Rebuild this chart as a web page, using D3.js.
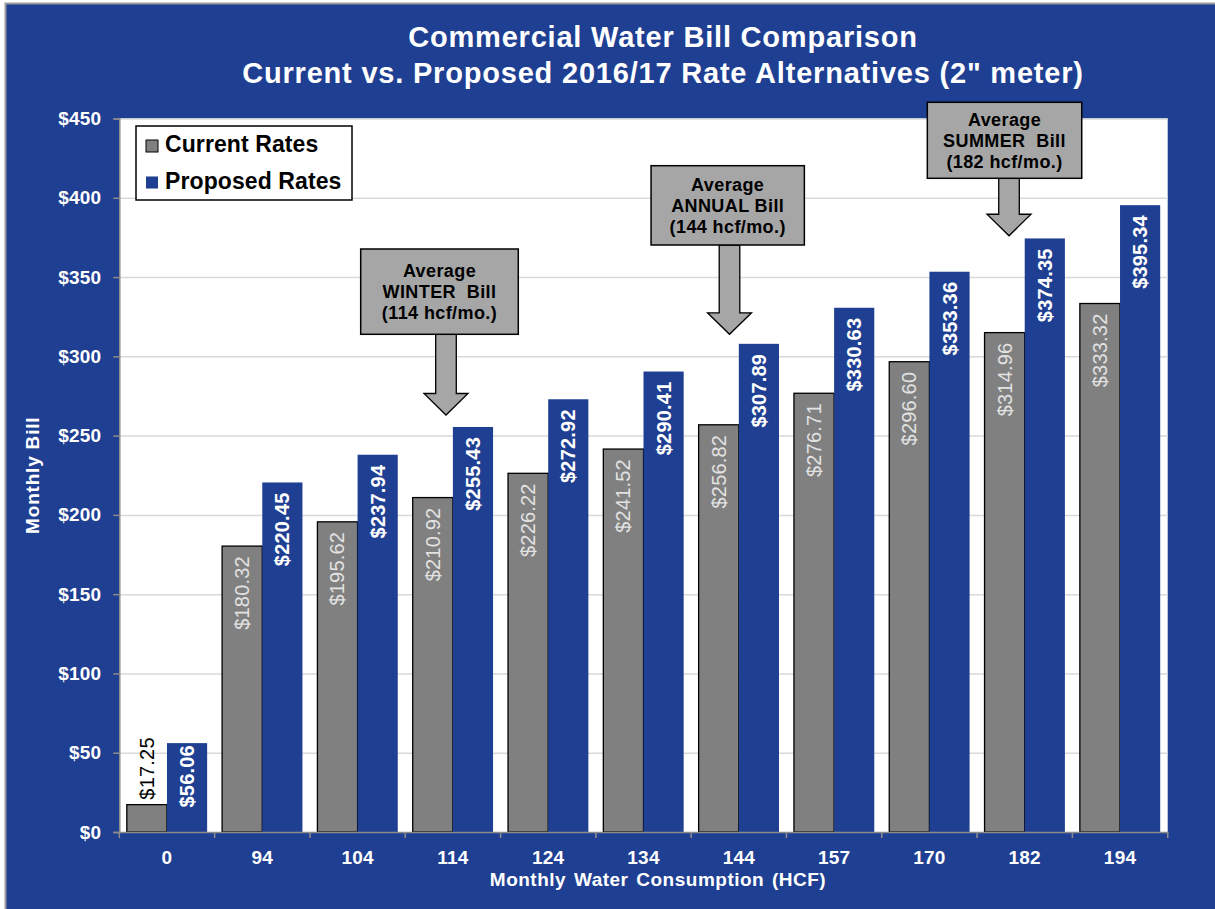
<!DOCTYPE html>
<html>
<head>
<meta charset="utf-8">
<title>Commercial Water Bill Comparison</title>
<script src="https://cdn.jsdelivr.net/npm/d3@7"></script>
<style>
  body { margin: 0; background: #ffffff; }
  svg { display: block; }
  text { font-family: "Liberation Sans", Arial, Helvetica, sans-serif; }
</style>
</head>
<body>
<svg id="chart" width="1215" height="909"></svg>
<script>
// Monthly water consumption (HCF) for a 2" meter
const categories = ["0", "94", "104", "114", "124", "134", "144", "157", "170", "182", "194"];
// Monthly bill under current rates ($)
const currentRates = [17.25, 180.32, 195.62, 210.92, 226.22, 241.52, 256.82, 276.71, 296.60, 314.96, 333.32];
// Monthly bill under proposed 2016/17 rates ($)
const proposedRates = [56.06, 220.45, 237.94, 255.43, 272.92, 290.41, 307.89, 330.63, 353.36, 374.35, 395.34];
const seriesNames = ["Current Rates", "Proposed Rates"];
const yTicks = [0, 50, 100, 150, 200, 250, 300, 350, 400, 450];
const titleLines = ["Commercial Water Bill Comparison", "Current vs. Proposed 2016/17 Rate Alternatives (2\" meter)"];
const xTitle = "Monthly Water Consumption (HCF)";
const yTitle = "Monthly Bill";
// Callout notes pointing at the average seasonal bills
const callouts = [
  { category: "114", lines: ["Average", "WINTER\u00a0 Bill", "(114 hcf/mo.)"] },
  { category: "144", lines: ["Average", "ANNUAL Bill", "(144 hcf/mo.)"] },
  { category: "182", lines: ["Average", "SUMMER\u00a0 Bill", "(182 hcf/mo.)"] }
];

const COLORS = {
  frame: "#1f3f93",
  frameStroke: "#9a9a9a",
  current: "#808080",
  proposed: "#1f3f93",
  grid: "#d9d9d9",
  axis: "#8c8c8c",
  callout: "#a6a6a6",
  currentLabel: "#e2e2e2"
};

const W = 1215, H = 909;
const plot = { left: 119.3, right: 1167.7, top: 118.5, bottom: 832 };

const svg = d3.select("#chart");

// Blue chart frame
svg.append("rect")
  .attr("x", 5.5).attr("y", 3.5)
  .attr("width", W).attr("height", H)
  .attr("fill", COLORS.frame)
  .attr("stroke", COLORS.frameStroke)
  .attr("stroke-width", 2);

// Titles
svg.append("g").selectAll("text")
  .data(titleLines)
  .join("text")
  .attr("x", 663)
  .attr("y", (d, i) => 47 + i * 36)
  .attr("text-anchor", "middle")
  .attr("fill", "#ffffff")
  .attr("font-weight", "bold")
  .attr("font-size", 29)
  .attr("letter-spacing", 0.8)
  .text(d => d);

// Scales
const rows = categories.map((c, i) => ({ category: c, current: currentRates[i], proposed: proposedRates[i] }));

const x = d3.scaleBand()
  .domain(categories)
  .range([plot.left, plot.right])
  .paddingInner(0.157)
  .paddingOuter(0.0787);

const xSeries = d3.scaleBand()
  .domain(["current", "proposed"])
  .range([0, x.bandwidth()]);

const y = d3.scaleLinear()
  .domain([0, 450])
  .range([plot.bottom, plot.top]);

// Plot area
svg.append("rect")
  .attr("x", plot.left).attr("y", plot.top)
  .attr("width", plot.right - plot.left)
  .attr("height", plot.bottom - plot.top)
  .attr("fill", "#ffffff");

// Horizontal gridlines
const grid = svg.append("g")
  .attr("transform", `translate(${plot.left},0)`)
  .call(d3.axisLeft(y).tickValues(yTicks.filter(v => v > 0)).tickSize(-(plot.right - plot.left)).tickFormat(""));
grid.select(".domain").remove();
grid.selectAll(".tick line").attr("stroke", COLORS.grid).attr("stroke-width", 1.5);

// Bars
const groups = svg.append("g").selectAll("g")
  .data(rows)
  .join("g")
  .attr("transform", d => `translate(${x(d.category)},0)`);

groups.append("rect")
  .attr("x", xSeries("current"))
  .attr("y", d => y(d.current))
  .attr("width", xSeries.bandwidth())
  .attr("height", d => y(0) - y(d.current))
  .attr("fill", COLORS.current)
  .attr("stroke", "#000000")
  .attr("stroke-width", 1.3);

groups.append("rect")
  .attr("x", xSeries("proposed"))
  .attr("y", d => y(d.proposed))
  .attr("width", xSeries.bandwidth())
  .attr("height", d => y(0) - y(d.proposed))
  .attr("fill", COLORS.proposed);

// Axes
const yAxis = svg.append("g")
  .attr("transform", `translate(${plot.left},0)`)
  .call(d3.axisLeft(y).tickValues(yTicks).tickFormat(d => "$" + d).tickSize(6).tickPadding(12));
yAxis.select(".domain").attr("stroke", COLORS.axis).attr("stroke-width", 1.5);
yAxis.selectAll(".tick line").attr("stroke", COLORS.axis).attr("stroke-width", 1.5);
yAxis.selectAll(".tick text")
  .attr("fill", "#ffffff")
  .attr("font-weight", "bold")
  .attr("font-size", 19)
  .attr("letter-spacing", 0.2)
  .attr("font-family", null);

const xAxis = svg.append("g")
  .attr("transform", `translate(0,${plot.bottom})`)
  .call(d3.axisBottom(x).tickSize(0).tickPadding(18.5));
xAxis.select(".domain").attr("stroke", COLORS.axis).attr("stroke-width", 1.5);
xAxis.selectAll(".tick text")
  .attr("fill", "#ffffff")
  .attr("font-weight", "bold")
  .attr("font-size", 19)
  .attr("letter-spacing", 0.2)
  .attr("font-family", null);

// Tick marks between categories
const boundaries = categories.map(c => x(c) - x.step() * x.paddingInner() / 2).concat([plot.right]);
boundaries[0] = plot.left;
svg.append("g").selectAll("line")
  .data(boundaries)
  .join("line")
  .attr("x1", d => d).attr("x2", d => d)
  .attr("y1", plot.bottom).attr("y2", plot.bottom + 6)
  .attr("stroke", COLORS.axis)
  .attr("stroke-width", 1.5);

// Axis titles
svg.append("text")
  .attr("x", 658).attr("y", 886)
  .attr("text-anchor", "middle")
  .attr("fill", "#ffffff")
  .attr("font-weight", "bold")
  .attr("font-size", 19)
  .attr("letter-spacing", 0.5)
  .attr("word-spacing", 2)
  .text(xTitle);

svg.append("text")
  .attr("transform", `translate(39,${(plot.top + plot.bottom) / 2}) rotate(-90)`)
  .attr("text-anchor", "middle")
  .attr("fill", "#ffffff")
  .attr("font-weight", "bold")
  .attr("font-size", 19)
  .attr("letter-spacing", 0.8)
  .text(yTitle);

// Value labels, rotated, inside the bar end when they fit
function addValueLabel(g, key, insideColor, weight) {
  g.each(function (d) {
    const value = d[key];
    const cx = xSeries(key) + xSeries.bandwidth() / 2;
    const top = y(value);
    const t = d3.select(this).append("text")
      .attr("font-size", 20)
      .attr("font-weight", weight)
      .attr("letter-spacing", 0.2)
      .attr("dominant-baseline", "central")
      .text("$" + value.toFixed(2));
    const len = t.node().getComputedTextLength();
    const barHeight = y(0) - top;
    if (barHeight > len + 6) {
      const offset = barHeight > len + 30 ? 10 : 2;
      t.attr("text-anchor", "end")
        .attr("fill", insideColor)
        .attr("transform", `translate(${cx},${top + offset}) rotate(-90)`);
    } else {
      t.attr("text-anchor", "start")
        .attr("fill", "#000000")
        .attr("transform", `translate(${cx},${top - 5}) rotate(-90)`);
    }
  });
}
addValueLabel(groups, "current", COLORS.currentLabel, "normal");
addValueLabel(groups, "proposed", "#ffffff", "bold");

// Legend
const legend = svg.append("g").attr("transform", "translate(136,126)");
legend.append("rect")
  .attr("width", 216).attr("height", 74)
  .attr("fill", "#ffffff")
  .attr("stroke", "#000000")
  .attr("stroke-width", 1.5);
const legendItems = legend.selectAll("g")
  .data(seriesNames)
  .join("g")
  .attr("transform", (d, i) => `translate(10,${14 + i * 36.5})`);
legendItems.append("rect")
  .attr("width", 12).attr("height", 12)
  .attr("fill", (d, i) => i === 0 ? COLORS.current : COLORS.proposed)
  .attr("stroke", (d, i) => i === 0 ? "#000000" : "none")
  .attr("stroke-width", 1);
legendItems.append("text")
  .attr("x", 19).attr("y", 12)
  .attr("fill", "#000000")
  .attr("font-weight", "bold")
  .attr("font-size", 23)
  .attr("letter-spacing", 0.1)
  .text(d => d);

// Callout boxes with down arrows
const calloutLayout = {
  "114": { boxDx: -13.4, arrowDx: -6.9, boxTop: 249, boxW: 157.6, boxH: 85.3, tipGap: 12 },
  "144": { boxDx: -11.1, arrowDx: -9.3, boxTop: 165.7, boxW: 153.3, boxH: 79.3, tipGap: 9.5 },
  "182": { boxDx: -20.2, arrowDx: -15.7, boxTop: 102.3, boxW: 154.4, boxH: 76, tipGap: 2.7 }
};
const shaftHalf = 10.3, headHalf = 22, headLen = 21.5;

callouts.forEach(c => {
  const L = calloutLayout[c.category];
  const idx = categories.indexOf(c.category);
  const center = x(c.category) + x.bandwidth() / 2;
  const ax = center + L.arrowDx;
  const bx = center + L.boxDx;
  const tip = y(proposedRates[idx]) - L.tipGap;
  const boxBottom = L.boxTop + L.boxH;
  const g = svg.append("g");
  const pts = [
    [ax - shaftHalf, boxBottom], [ax + shaftHalf, boxBottom],
    [ax + shaftHalf, tip - headLen], [ax + headHalf, tip - headLen],
    [ax, tip], [ax - headHalf, tip - headLen],
    [ax - shaftHalf, tip - headLen]
  ];
  g.append("path")
    .attr("d", d3.line()(pts) + "Z")
    .attr("fill", COLORS.callout)
    .attr("stroke", "#000000")
    .attr("stroke-width", 1.3)
    .attr("stroke-linejoin", "miter");
  g.append("rect")
    .attr("x", bx - L.boxW / 2).attr("y", L.boxTop)
    .attr("width", L.boxW).attr("height", L.boxH)
    .attr("fill", COLORS.callout)
    .attr("stroke", "#000000")
    .attr("stroke-width", 1.5);
  const midY = L.boxTop + L.boxH / 2;
  g.selectAll("text")
    .data(c.lines)
    .join("text")
    .attr("x", bx)
    .attr("y", (d, i) => midY + (i - 1) * 21)
    .attr("dy", "0.35em")
    .attr("text-anchor", "middle")
    .attr("fill", "#000000")
    .attr("font-weight", "bold")
    .attr("font-size", 18)
    .attr("letter-spacing", 0.4)
    .text(d => d);
});
</script>
</body>
</html>
